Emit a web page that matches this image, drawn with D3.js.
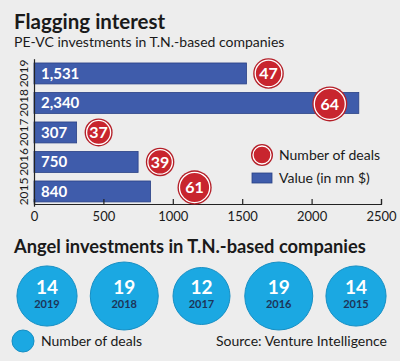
<!DOCTYPE html>
<html>
<head>
<meta charset="utf-8">
<script src="https://cdn.jsdelivr.net/npm/d3@7"></script>
<style>
  html, body { margin: 0; padding: 0; background: #ededed; }
  svg { display: block; font-family: Lato, 'Open Sans', sans-serif; }
</style>
</head>
<body>
<svg id="chart"></svg>
<script>
const WIDTH = 400;
const HEIGHT = 361;

// PE-VC investments
const years = ['2019', '2018', '2017', '2016', '2015'];
const values = [1531, 2340, 307, 750, 840];
const deals = [47, 64, 37, 39, 61];
const xTicks = [0, 500, 1000, 1500, 2000, 2500];

// Angel investments
const angelYears = ['2019', '2018', '2017', '2016', '2015'];
const angelDeals = [14, 19, 12, 19, 14];

// hand placement of the red bubbles, relative to the end of each bar
const dealDx = [22, -29, 22, 22, 44];
const dealDy = [0, 1, 0, 0, -4];

const fmt = d3.format(',');

const svg = d3.select('#chart')
  .attr('width', WIDTH)
  .attr('height', HEIGHT)
  .attr('viewBox', `0 0 ${WIDTH} ${HEIGHT}`);

svg.append('rect')
  .attr('width', WIDTH)
  .attr('height', HEIGHT)
  .attr('fill', '#ededed');

// Titles
svg.append('text')
  .attr('x', 14).attr('y', 29)
  .attr('font-size', 20.5).attr('font-weight', 'bold')
  .attr('fill', '#1a1a1a')
  .text('Flagging interest');

svg.append('text')
  .attr('x', 14).attr('y', 47)
  .attr('font-size', 14)
  .attr('fill', '#1a1a1a')
  .text('PE-VC investments in T.N.-based companies');

// Scales
const x = d3.scaleLinear().domain([0, 2500]).range([34, 381]);
const y = d3.scaleBand()
  .domain(years)
  .range([58.7, 206.2])
  .paddingInner(0.29)
  .paddingOuter(0.145);
const rDeal = d3.scaleLinear().domain([37, 64]).range([14, 17.5]);

const AXIS_Y = 204;

// Bars
svg.append('g')
  .selectAll('rect')
  .data(years)
  .join('rect')
  .attr('x', x(0))
  .attr('y', d => y(d))
  .attr('width', (d, i) => x(values[i]) - x(0))
  .attr('height', y.bandwidth())
  .attr('fill', '#3f5cab')
  .attr('stroke', '#2a4185')
  .attr('stroke-width', 0.8);

svg.append('g')
  .selectAll('text')
  .data(years)
  .join('text')
  .attr('x', x(0) + 7)
  .attr('y', d => y(d) + y.bandwidth() / 2)
  .attr('dy', '0.36em')
  .attr('font-size', 15)
  .attr('font-weight', 'bold')
  .attr('fill', '#fff')
  .text((d, i) => fmt(values[i]));

// X axis
const xAxis = svg.append('g')
  .attr('transform', `translate(0,${AXIS_Y})`)
  .call(d3.axisBottom(x).tickValues(xTicks).tickSize(-5).tickPadding(8).tickFormat(d3.format('d')));
xAxis.select('.domain').attr('stroke', '#222').attr('stroke-width', 1.2);
xAxis.selectAll('.tick line').attr('stroke', '#222').attr('stroke-width', 1.2);
xAxis.selectAll('text')
  .attr('font-size', 13)
  .attr('font-family', 'Lato, sans-serif')
  .attr('fill', '#1a1a1a');

// Y axis with rotated year labels
const yAxis = svg.append('g')
  .attr('transform', `translate(${x(0)},0)`)
  .call(d3.axisLeft(y).tickSize(0).tickSizeOuter(0));
yAxis.select('.domain').attr('stroke', '#222').attr('stroke-width', 1.2);
yAxis.selectAll('text')
  .attr('transform', 'rotate(-90)')
  .attr('x', 0)
  .attr('y', -6)
  .attr('dy', 0)
  .attr('text-anchor', 'middle')
  .attr('font-size', 12)
  .attr('font-family', 'Lato, sans-serif')
  .attr('fill', '#1a1a1a');

// Red bubbles (number of deals)
function redBubble(g, r) {
  g.append('circle').attr('r', r).attr('fill', '#b41f28');
  g.append('circle').attr('r', r - 2)
    .attr('fill', '#c8252e')
    .attr('stroke', '#fff')
    .attr('stroke-width', 1.3);
}

const bubbles = svg.append('g')
  .selectAll('g')
  .data(years)
  .join('g')
  .attr('transform', (d, i) =>
    `translate(${x(values[i]) + dealDx[i]},${y(d) + y.bandwidth() / 2 + dealDy[i]})`);

bubbles.each(function(d, i) {
  redBubble(d3.select(this), rDeal(deals[i]));
});

bubbles.append('text')
  .attr('text-anchor', 'middle')
  .attr('dy', '0.36em')
  .attr('font-size', 16)
  .attr('font-weight', 'bold')
  .attr('fill', '#fff')
  .text((d, i) => deals[i]);

// Legend (bar chart)
const legend = svg.append('g');
redBubble(legend.append('g').attr('transform', 'translate(262,155)'), 11);
legend.append('text')
  .attr('x', 279).attr('y', 155).attr('dy', '0.36em')
  .attr('font-size', 14).attr('fill', '#1a1a1a')
  .text('Number of deals');
legend.append('rect')
  .attr('x', 252).attr('y', 173).attr('width', 20).attr('height', 10)
  .attr('fill', '#3f5cab').attr('stroke', '#2a4185').attr('stroke-width', 0.8);
legend.append('text')
  .attr('x', 279).attr('y', 178).attr('dy', '0.36em')
  .attr('font-size', 14).attr('fill', '#1a1a1a')
  .text('Value (in mn $)');

// Angel investments
svg.append('text')
  .attr('x', 14).attr('y', 253)
  .attr('font-size', 18.3).attr('font-weight', 'bold')
  .attr('fill', '#1a1a1a')
  .text('Angel investments in T.N.-based companies');

const ax = d3.scalePoint().domain(angelYears).range([47, 356]);
const rAngel = d3.scaleLinear().domain([12, 19]).range([28.5, 34]);
const ANGEL_Y = 296;

const angel = svg.append('g')
  .selectAll('g')
  .data(angelYears)
  .join('g')
  .attr('transform', d => `translate(${ax(d)},${ANGEL_Y})`);

angel.append('circle')
  .attr('r', (d, i) => rAngel(angelDeals[i]))
  .attr('fill', '#1ba8e2')
  .attr('stroke', '#168fc4')
  .attr('stroke-width', 1);

angel.append('text')
  .attr('text-anchor', 'middle')
  .attr('y', -2)
  .attr('font-size', 19)
  .attr('font-weight', 'bold')
  .attr('fill', '#fff')
  .text((d, i) => angelDeals[i]);

angel.append('text')
  .attr('text-anchor', 'middle')
  .attr('y', 12)
  .attr('font-size', 11)
  .attr('font-weight', 'bold')
  .attr('fill', '#1d3559')
  .text(d => d);

// Bottom legend and source
svg.append('circle')
  .attr('cx', 23).attr('cy', 341).attr('r', 11)
  .attr('fill', '#1ba8e2').attr('stroke', '#168fc4');
svg.append('text')
  .attr('x', 41).attr('y', 341).attr('dy', '0.36em')
  .attr('font-size', 14).attr('fill', '#1a1a1a')
  .text('Number of deals');
svg.append('text')
  .attr('x', 387).attr('y', 341).attr('dy', '0.36em')
  .attr('text-anchor', 'end')
  .attr('font-size', 14).attr('fill', '#1a1a1a')
  .text('Source: Venture Intelligence');
</script>
</body>
</html>
